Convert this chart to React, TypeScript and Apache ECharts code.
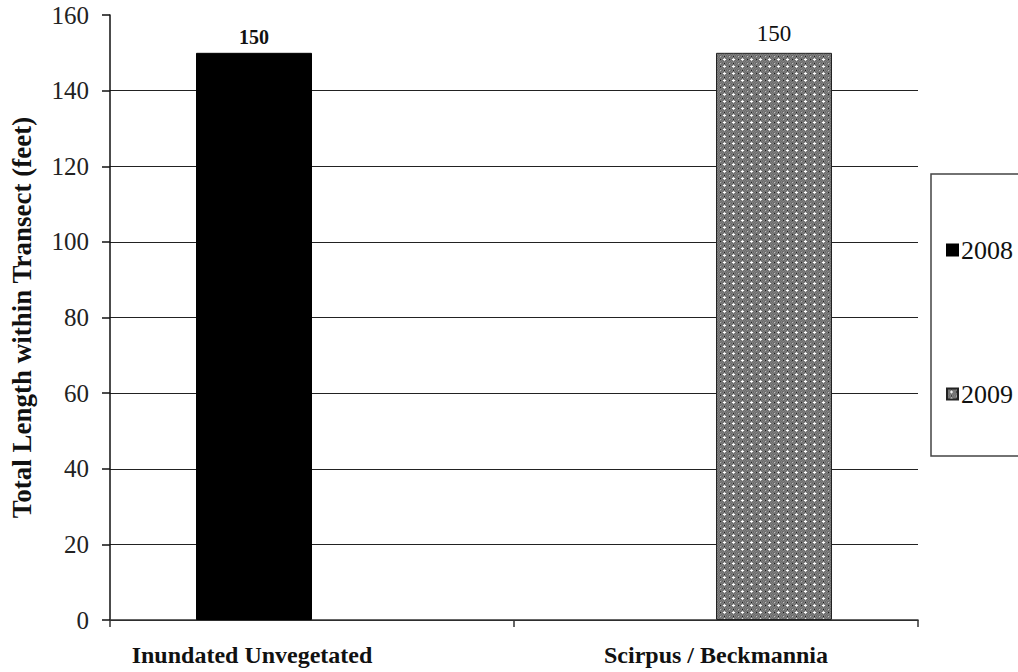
import React, { useEffect, useRef } from "react";
import * as echarts from "echarts";

const categories = ["Inundated Unvegetated", "Scirpus / Beckmannia"];
const seriesNames = ["2008", "2009"];
const values2008 = [150, null];
const values2009 = [null, 150];
const yMin = 0;
const yMax = 160;
const yInterval = 20;
const yTitle = "Total Length within Transect (feet)";

function makePattern(): string {
  const w = 9;
  const h = 7;
  const c = document.createElement("canvas");
  c.width = w;
  c.height = h;
  const ctx = c.getContext("2d")!;
  ctx.fillStyle = "#808080";
  ctx.fillRect(0, 0, w, h);
  for (let y = 0; y < h; y++) {
    for (let x = 0; x < w; x++) {
      if ((x + y) % 2 === 0) {
        ctx.fillStyle = "#6c6c6c";
        ctx.fillRect(x, y, 1, 1);
      }
    }
  }
  ctx.fillStyle = "#ffffff";
  ctx.fillRect(4, 3, 1, 1);
  ctx.fillRect(3, 3, 1, 1);
  ctx.fillRect(5, 3, 1, 1);
  ctx.fillStyle = "#e0e0e0";
  ctx.fillRect(4, 2, 1, 1);
  ctx.fillRect(4, 4, 1, 1);
  ctx.fillStyle = "#c0c0c0";
  ctx.fillRect(0, 0, 1, 1);
  ctx.fillStyle = "#1e1e1e";
  ctx.fillRect(0, 3, 1, 1);
  ctx.fillRect(4, 0, 1, 1);
  return c.toDataURL();
}

export default function App() {
  const ref = useRef<HTMLDivElement>(null);
  useEffect(() => {
    if (!ref.current) return;
    const chart = echarts.init(ref.current, null, { renderer: "svg" });
    const font = "Liberation Serif";
    const pattern = { image: makePattern(), repeat: "repeat" as const };
    const nLines = Math.round((yMax - yMin) / yInterval) + 1;
    const lineColors = Array.from({ length: nLines }, (_, i) =>
      i === nLines - 1 ? "rgba(0,0,0,0)" : "#222"
    );
    const catStyle = { fontFamily: font, fontSize: 24, fontWeight: "bold", color: "#111" };
    chart.setOption({
      animation: false,
      backgroundColor: "#fff",
      textStyle: { fontFamily: font },
      grid: { left: 108, right: 100, top: 15, bottom: 52, containLabel: false },
      legend: {
        orient: "vertical",
        left: 941,
        top: 232,
        itemGap: 118,
        itemWidth: 11,
        itemHeight: 11,
        icon: "rect",
        data: seriesNames,
        textStyle: { fontFamily: font, fontSize: 26, color: "#111", padding: [0, 0, 0, -2] },
      },
      graphic: [
        {
          type: "rect",
          shape: { x: 931, y: 174, width: 120, height: 282 },
          style: { fill: "none", stroke: "#444", lineWidth: 1.5 },
          z: -1,
        },
      ],
      xAxis: {
        type: "category",
        data: categories,
        axisLine: { lineStyle: { color: "#333", width: 1.5 } },
        axisTick: { show: true, length: 7, lineStyle: { color: "#333", width: 1.5 } },
        axisLabel: {
          ...catStyle,
          margin: 23,
          formatter: (v: string, i: number) => (i === 0 ? `{a|${v}}` : `{b|${v}}`),
          rich: {
            a: { ...catStyle, padding: [0, 120, 0, 0] },
            b: { ...catStyle },
          },
        },
      },
      yAxis: {
        type: "value",
        min: yMin,
        max: yMax,
        interval: yInterval,
        name: yTitle,
        nameLocation: "middle",
        nameRotate: 90,
        nameGap: 75,
        nameTextStyle: { fontFamily: font, fontSize: 27, fontWeight: "bold", color: "#111" },
        axisLine: { show: true, lineStyle: { color: "#111", width: 1.5 } },
        axisTick: { show: true, length: 8, lineStyle: { color: "#111", width: 1.5 } },
        axisLabel: { fontFamily: font, fontSize: 25, color: "#222", margin: 21 },
        splitLine: { show: true, lineStyle: { color: lineColors, width: 1.2 } },
      },
      series: [
        {
          name: seriesNames[0],
          type: "bar",
          data: values2008,
          barWidth: 116,
          barGap: "0%",
          itemStyle: { color: "#000", borderColor: "#000", borderWidth: 1 },
          label: {
            show: true,
            position: "top",
            distance: 6,
            fontFamily: font,
            fontSize: 20,
            fontWeight: "bold",
            color: "#111",
          },
        },
        {
          name: seriesNames[1],
          type: "bar",
          data: values2009,
          barWidth: 116,
          barGap: "0%",
          itemStyle: { color: pattern, borderColor: "#222", borderWidth: 1 },
          label: {
            show: true,
            position: "top",
            distance: 8,
            fontFamily: font,
            fontSize: 23,
            color: "#111",
          },
        },
      ],
    });
    return () => chart.dispose();
  }, []);
  return (
    <div
      ref={ref}
      style={{ position: "fixed", left: 0, top: 0, width: 1018, height: 672 }}
    />
  );
}
